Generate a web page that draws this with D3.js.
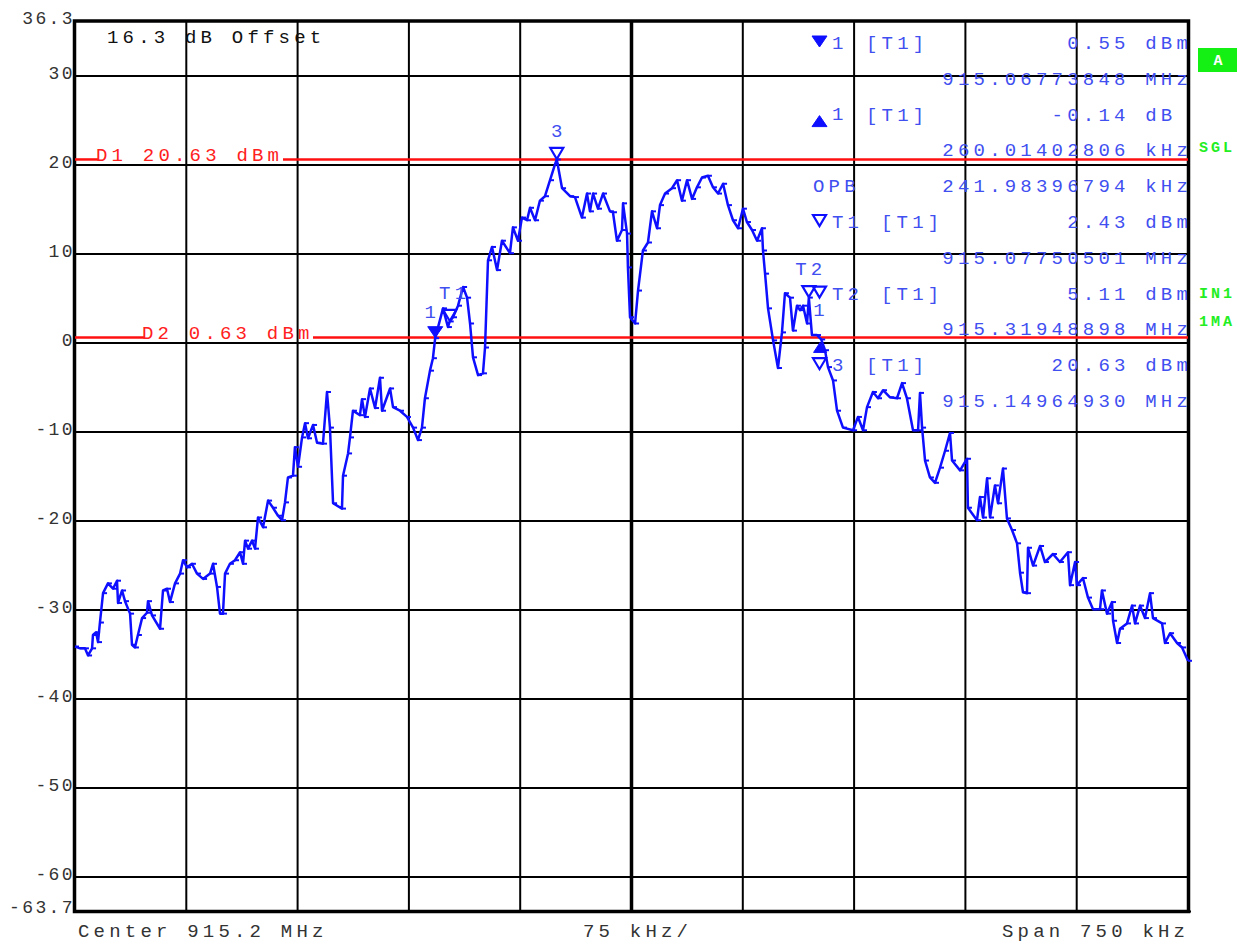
<!DOCTYPE html>
<html><head><meta charset="utf-8">
<script src="https://cdn.jsdelivr.net/npm/d3@7/dist/d3.min.js"></script>
<style>body{margin:0;background:#fff}svg{display:block}</style>
</head><body>
<svg id="chart" width="1238" height="944"></svg>
<script>
// ---- data ----
const centerMHz = 915.2;
const spanKHz = 750;
const refTop = 36.3, refBottom = -63.7;
const yGridValues = [30, 20, 10, 0, -10, -20, -30, -40, -50, -60];
const yTickLabels = ["36.3", "30", "20", "10", "0", "-10", "-20", "-30", "-40", "-50", "-60", "-63.7"];
const yTickValues = [36.3, 30, 20, 10, 0, -10, -20, -30, -40, -50, -60, -63.7];
const xGridKHz = [-300, -225, -150, -75, 0, 75, 150, 225, 300];

// trace: frequency offset from center (kHz) and level (dBm)
const freqKHz = [-375.0,-371.6,-368.3,-366.2,-363.5,-362.9,-360.8,-359.5,-358.2,-356.1,-352.8,-349.4,-346.7,-346.0,-343.3,-341.3,-337.9,-336.6,-334.6,-332.6,-329.8,-326.5,-325.8,-323.1,-317.7,-315.7,-313.0,-311.0,-307.6,-304.2,-302.2,-299.5,-296.2,-292.8,-288.7,-284.0,-282.0,-279.3,-277.3,-275.3,-273.9,-270.6,-267.2,-263.8,-261.8,-260.4,-258.4,-255.7,-253.7,-251.7,-248.3,-244.9,-241.6,-238.2,-235.5,-233.5,-231.5,-228.1,-226.8,-224.7,-222.0,-220.0,-218.0,-214.6,-211.9,-207.9,-205.2,-203.2,-201.1,-195.1,-194.4,-191.0,-189.7,-187.7,-183.0,-181.6,-179.6,-176.2,-172.8,-169.5,-168.1,-162.7,-160.7,-156.0,-151.3,-147.2,-143.9,-141.2,-139.2,-135.8,-133.8,-132.3,-127.0,-123.7,-122.5,-120.3,-116.9,-113.5,-110.8,-108.8,-106.8,-103.4,-100.1,-98.7,-96.7,-94.0,-90.6,-87.3,-81.9,-79.9,-76.5,-73.8,-70.4,-68.4,-65.0,-61.7,-58.3,-54.9,-51.5,-50.35,-46.8,-41.4,-38.1,-33.4,-30.0,-28.0,-25.9,-22.6,-19.2,-14.5,-12.5,-9.8,-6.4,-5.7,-3.0,-2.4,-1.0,2.4,4.4,7.7,11.1,13.8,17.2,19.2,22.6,27.3,30.7,34.0,37.4,40.8,44.1,47.5,51.5,54.9,58.3,61.7,65.0,68.4,71.8,75.1,77.8,81.2,84.6,87.9,88.6,90.0,92.0,95.4,98.7,101.4,103.4,106.8,108.8,111.5,113.5,115.6,118.3,119.5,121.6,125.0,127.8,130.4,132.4,135.8,138.5,142.5,149.3,152.6,156.0,158.7,162.7,166.1,169.5,174.2,178.9,182.3,185.6,189.7,193.1,194.4,195.8,197.8,201.1,204.5,207.9,211.3,214.6,216.0,221.4,226.1,226.7,232.8,234.8,236.9,239.6,241.6,244.9,247.0,250.3,253.0,256.4,259.8,261.8,263.8,266.5,267.2,270.6,275.3,278.6,284.0,288.7,294.1,295.5,298.9,300.2,304.2,307.6,311.0,315.7,317.0,320.4,323.8,324.5,327.2,329.2,333.9,337.3,339.3,342.7,346.0,349.4,351.4,357.5,359.5,362.9,367.6,371.0,375.0];
const levelDbm = [-34.1,-34.3,-34.3,-35.1,-34.3,-32.8,-32.5,-33.6,-31.4,-28.1,-27.0,-27.6,-26.7,-29.2,-27.8,-29.0,-30.4,-33.9,-34.2,-32.8,-30.9,-30.3,-29.0,-30.6,-32.1,-27.8,-27.6,-29.1,-27.0,-25.9,-24.4,-25.2,-24.8,-25.9,-26.5,-25.9,-24.8,-27.4,-30.4,-30.4,-25.9,-24.8,-24.4,-23.5,-24.8,-22.2,-23.1,-22.2,-23.1,-19.6,-20.7,-17.7,-18.5,-19.4,-19.9,-17.9,-15.1,-14.9,-11.7,-13.9,-10.6,-9.0,-10.7,-9.2,-11.2,-11.3,-5.5,-9.5,-18.0,-18.6,-14.9,-12.4,-10.6,-7.6,-8.1,-6.3,-8.3,-5.1,-7.3,-3.9,-7.6,-5.1,-7.2,-7.6,-8.3,-9.5,-10.9,-9.5,-6.2,-3.1,-1.7,0.55,3.9,1.8,2.43,2.9,4.2,6.3,5.1,2.2,-1.6,-3.6,-3.4,-0.5,9.3,10.8,8.2,11.5,10.1,13.0,11.5,14.1,13.8,15.2,13.8,16.0,16.5,18.3,20.1,20.63,17.4,16.5,16.4,14.1,16.8,14.8,16.8,15.1,16.8,14.8,14.7,11.5,12.7,15.7,12.3,8.5,2.9,2.2,5.9,10.4,11.3,14.8,12.9,15.5,16.8,17.4,18.3,16.0,18.3,16.2,17.5,18.6,18.8,17.5,16.8,17.9,15.5,13.8,12.9,15.1,13.6,12.7,11.5,12.9,10.4,7.8,3.9,0.3,-2.8,1.2,5.6,5.1,1.4,4.2,3.7,4.2,2.2,5.11,0.9,0.9,0.41,-0.8,-2.7,-4.2,-7.6,-9.5,-9.8,-8.3,-9.8,-7.2,-5.5,-6.2,-5.3,-6.1,-6.2,-4.5,-6.2,-9.8,-9.8,-5.6,-9.5,-13.2,-15.1,-15.7,-14.0,-12.1,-10.1,-13.2,-14.3,-13.0,-18.5,-19.9,-17.3,-19.6,-15.2,-19.6,-16.0,-18.0,-14.1,-19.7,-21.0,-22.5,-25.8,-28.0,-28.1,-23.0,-25.0,-22.8,-24.6,-23.7,-24.6,-23.5,-27.2,-24.6,-27.2,-26.4,-28.6,-29.9,-29.9,-27.8,-30.4,-29.1,-31.2,-33.7,-32.1,-31.5,-29.5,-31.5,-29.5,-30.9,-28.1,-30.9,-31.5,-33.7,-32.6,-33.7,-34.2,-35.7];

// display lines
const lineNames = ["D1", "D2"];
const lineValues = [20.63, 0.63];
const lineLabels = ["D1 20.63 dBm", "D2 0.63 dBm"];

// markers on trace
const markerLabels = ["1", "T1", "3", "T2", "1"];
const markerFreqKHz = [-132.26, -122.49, -50.35, 119.49, 127.75];
const markerLevels = [0.55, 2.43, 20.63, 5.11, 0.41];
const markerShapes = ["downFilled", "downOpen", "downOpen", "downOpen", "upFilled"];

// marker info table
const tableIcons = ["downFilled", "", "upFilled", "", "", "downOpen", "", "downOpen", "", "downOpen", ""];
const tableNames = ["1", "", "1", "", "OPB", "T1", "", "T2", "", "3", ""];
const tableTags  = ["[T1]", "", "[T1]", "", "", "[T1]", "", "[T1]", "", "[T1]", ""];
const tableValues = ["0.55 dBm", "915.06773848 MHz", "-0.14 dB\u00a0", "260.01402806 kHz", "241.98396794 kHz",
  "2.43 dBm", "915.07750501 MHz", "5.11 dBm", "915.31948898 MHz", "20.63 dBm", "915.14964930 MHz"];

const sideLabels = ["SGL", "IN1", "1MA"];
const bottomLabels = ["Center 915.2 MHz", "75 kHz/", "Span 750 kHz"];
const offsetLabel = "16.3 dB Offset";

// ---- drawing ----
const svg = d3.select("#chart");
const L = 75, R = 1188, T = 20, B = 910;
const x = d3.scaleLinear().domain([-spanKHz / 2, spanKHz / 2]).range([L, R]);
const y = d3.scaleLinear().domain([refBottom, refTop]).range([B, T]);
const FONT = "'Liberation Mono', 'DejaVu Sans Mono', monospace";
const FS = 19, LS = "4.2px";
const BLUE_TXT = "#3f4ff0";
const TRACE = "#0f0fff";

// grid
svg.append("g").selectAll("line").data(yGridValues).join("line")
  .attr("x1", L).attr("x2", R).attr("y1", d => y(d)).attr("y2", d => y(d))
  .attr("stroke", "#000").attr("stroke-width", 2);
svg.append("g").selectAll("line").data(xGridKHz).join("line")
  .attr("y1", T).attr("y2", B).attr("x1", d => x(d)).attr("x2", d => x(d))
  .attr("stroke", "#000").attr("stroke-width", d => d === 0 ? 3.5 : 2);

// frame
svg.append("rect").attr("x", L - 0.5).attr("y", T + 1).attr("width", R - L + 1).attr("height", B - T + 0.5)
  .attr("fill", "none").attr("stroke", "#000").attr("stroke-width", 3.5);
svg.append("line").attr("x1", R).attr("x2", R + 3).attr("y1", B + 1.5).attr("y2", B + 1.5)
  .attr("stroke", "#000").attr("stroke-width", 2);

// y tick labels
svg.append("g").selectAll("text").data(yTickValues).join("text")
  .attr("x", 75).attr("y", (d, i) => y(d) + (i === 0 ? 3.5 : i === yTickValues.length - 1 ? 3 : 2.5))
  .attr("text-anchor", "end").attr("font-family", FONT).attr("font-size", 18)
  .attr("letter-spacing", "2.4px").attr("fill", "#333")
  .text((d, i) => yTickLabels[i]);

// bottom labels
const bottomX = [78, 583, 1002];
svg.append("g").selectAll("text").data(bottomLabels).join("text")
  .attr("x", (d, i) => bottomX[i]).attr("y", 937)
  .attr("font-family", FONT).attr("font-size", FS).attr("letter-spacing", LS).attr("fill", "#333")
  .text(d => d);

// offset label
svg.append("text").attr("x", 107).attr("y", 43).attr("font-family", FONT).attr("font-size", FS)
  .attr("letter-spacing", LS).attr("fill", "#111").text(offsetLabel);

// display lines
const lineTextX = [96, 142];
const lineTextEnd = [283, 313];
lineValues.forEach((v, i) => {
  const yy = y(v);
  svg.append("line").attr("x1", L).attr("x2", lineTextX[i] + 2).attr("y1", yy).attr("y2", yy)
    .attr("stroke", "#ff1010").attr("stroke-width", 2.5);
  svg.append("line").attr("x1", lineTextEnd[i]).attr("x2", R).attr("y1", yy).attr("y2", yy)
    .attr("stroke", "#ff1010").attr("stroke-width", 2.5);
  svg.append("text").attr("x", lineTextX[i]).attr("y", yy + 2).attr("font-family", FONT)
    .attr("font-size", FS).attr("letter-spacing", LS).attr("fill", "#ff2020").text(lineLabels[i]);
});

// trace
const pts = freqKHz.map((f, i) => [f, levelDbm[i]]);
svg.append("path").datum(pts)
  .attr("d", d3.line().x(d => x(d[0])).y(d => y(d[1])))
  .attr("fill", "none").attr("stroke", TRACE).attr("stroke-width", 2.5).attr("stroke-linejoin", "round");
svg.append("g").selectAll("line").data(pts).join("line")
  .attr("x1", d => x(d[0])).attr("x2", d => x(d[0]) + 4)
  .attr("y1", d => y(d[1])).attr("y2", d => y(d[1]))
  .attr("stroke", TRACE).attr("stroke-width", 2);

// triangle helper
function tri(g, cx, cy, shape, w, h) {
  let p;
  if (shape.startsWith("down")) p = [[cx - w / 2, cy - h], [cx + w / 2, cy - h], [cx, cy]];
  else p = [[cx - w / 2, cy + h], [cx + w / 2, cy + h], [cx, cy]];
  const filled = shape.endsWith("Filled");
  g.append("path").attr("d", "M" + p.map(q => q.join(",")).join("L") + "Z")
    .attr("fill", filled ? TRACE : "none").attr("stroke", TRACE).attr("stroke-width", filled ? 1 : 2.2)
    .attr("stroke-linejoin", "miter");
}

// markers on trace
const mg = svg.append("g");
const markerLabelDy = [-20, -22, -22, -23, -23];
const markerLabelDx = [-3, 5, 2, 2, 0];
markerFreqKHz.forEach((f, i) => {
  const cx = x(f), cy = y(markerLevels[i]);
  if (markerShapes[i] === "upFilled") tri(mg, cx - 1, cy + 3, "upFilled", 13, 10);
  else tri(mg, cx, cy - 0.5, markerShapes[i], markerShapes[i] === "downFilled" ? 15 : 13, 11);
  mg.append("text").attr("x", cx + markerLabelDx[i]).attr("y", cy + markerLabelDy[i]).attr("text-anchor", "middle")
    .attr("font-family", FONT).attr("font-size", FS).attr("letter-spacing", LS).attr("fill", BLUE_TXT)
    .text(markerLabels[i]);
});

// table
const tg = svg.append("g");
tableValues.forEach((v, i) => {
  const base = 49 + i * 35.8;
  if (tableIcons[i]) {
    if (tableIcons[i] === "upFilled") tri(tg, 819.5, base - 5, "upFilled", 15, 11);
    else tri(tg, 819.5, base - 2, tableIcons[i], tableIcons[i] === "downFilled" ? 15 : 13, 11);
  }
  if (tableNames[i]) {
    tg.append("text").attr("x", tableNames[i] === "OPB" ? 813 : 832).attr("y", base + (i === 2 ? -1 : 0))
      .attr("font-family", FONT).attr("font-size", FS).attr("letter-spacing", LS).attr("fill", BLUE_TXT)
      .text(tableNames[i]);
  }
  if (tableTags[i]) {
    tg.append("text").attr("x", tableNames[i].length > 1 ? 881 : 866).attr("y", base)
      .attr("font-family", FONT).attr("font-size", FS).attr("letter-spacing", LS).attr("fill", BLUE_TXT)
      .text(tableTags[i]);
  }
  tg.append("text").attr("x", 1192).attr("y", base).attr("text-anchor", "end")
    .attr("font-family", FONT).attr("font-size", FS).attr("letter-spacing", LS).attr("fill", BLUE_TXT)
    .text(v);
});

// side status labels
svg.append("rect").attr("x", 1198).attr("y", 48).attr("width", 39).attr("height", 24).attr("fill", "#14f014");
svg.append("text").attr("x", 1218).attr("y", 65).attr("text-anchor", "middle").attr("font-family", FONT)
  .attr("font-weight", "bold").attr("font-size", 15).attr("fill", "#fff").text("A");
const sideY = [152, 298, 326];
svg.append("g").selectAll("text").data(sideLabels).join("text")
  .attr("x", 1199).attr("y", (d, i) => sideY[i]).attr("font-family", FONT).attr("font-weight", "bold")
  .attr("font-size", 15).attr("letter-spacing", "3px").attr("fill", "#22ee22").text(d => d);
</script>
</body></html>
